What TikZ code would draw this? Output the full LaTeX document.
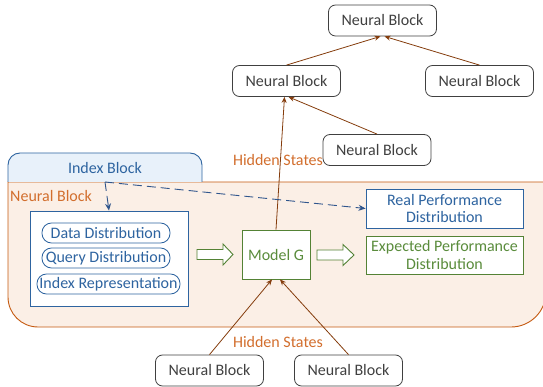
\documentclass[tikz,border=0pt]{standalone}
\usepackage{fontspec}
\setmainfont{Carlito}
\usetikzlibrary{arrows.meta}
\definecolor{nbgray}{RGB}{64,64,64}
\definecolor{idxblue}{RGB}{46,100,160}
\definecolor{dashblue}{RGB}{47,85,140}
\definecolor{idxfill}{RGB}{232,241,250}
\definecolor{ggreen}{RGB}{84,130,53}
\definecolor{gtext}{RGB}{90,140,60}
\definecolor{oborder}{RGB}{197,90,17}
\definecolor{otext}{RGB}{210,110,45}
\definecolor{peach}{RGB}{251,239,230}
\definecolor{brown}{RGB}{132,60,12}
\tikzset{
  fnt/.style={font=\fontsize{16}{17.5}\selectfont},
  nblock/.style={fnt, draw=nbgray, line width=0.8pt, rounded corners=7pt, fill=white, text=nbgray,
    minimum width=108pt, minimum height=31pt, inner sep=0pt},
  pill/.style={fnt, draw=idxblue, line width=0.8pt, rounded corners=9.5pt, fill=white, text=idxblue,
    minimum height=20pt, inner sep=0pt},
  bluebox/.style={fnt, draw=idxblue, line width=0.9pt, fill=white, text=idxblue, inner sep=0pt, align=center},
  greenbox/.style={fnt, draw=ggreen, line width=0.9pt, fill=white, text=gtext, inner sep=0pt, align=center},
  hs/.style={fnt, text=otext, inner sep=0pt},
  flow/.style={draw=brown, line width=0.8pt, -{Stealth[length=6pt,width=5pt]}},
  dflow/.style={draw=dashblue, line width=0.9pt, dash pattern=on 9pt off 5pt, -{Stealth[length=7pt,width=6pt]}},
  bigarrow/.style={draw=ggreen, line width=0.9pt, fill=white, line join=miter},
}
\begin{document}
\begin{tikzpicture}[x=1pt,y=-1pt]
\useasboundingbox (0,0) rectangle (543,387);
% Neural block region
\draw[draw=oborder, line width=0.9pt, fill=peach]
  (8,182) -- (8,297) arc[start angle=180,end angle=90,radius=30]
  -- (511,327) arc[start angle=90,end angle=0,radius=35]
  -- (546,182) -- cycle;
\node[fnt, text=otext, anchor=west, inner sep=0pt] (nblabel) at (10,196) {Neural Block};
% Index block
\draw[draw=idxblue, line width=0.9pt, fill=idxfill, rounded corners=12pt]
  (8,182) -- (8,153) -- (202,153) [sharp corners] -- (202,182);
\node[fnt, text=idxblue, inner sep=0pt] (idx) at (105,168) {Index Block};
\coordinate (idxb) at (105,182);
% inner box
\node[draw=idxblue, line width=0.9pt, fill=white, minimum width=158pt, minimum height=95pt, inner sep=0pt] (inner) at (109,258.5) {};
\node[pill, minimum width=128pt] (dd) at (106,233) {Data Distribution};
\node[pill, minimum width=128pt] (qd) at (106,258) {Query Distribution};
\node[pill, minimum width=143pt] (ir) at (108.5,284) {Index Representation};
% model G and outputs
\node[greenbox, minimum width=68pt, minimum height=49pt] (G) at (276,254.5) {Model G};
\node[bluebox, minimum width=157pt, minimum height=39pt] (real) at (444.5,208.5) {Real Performance\\Distribution};
\node[greenbox, minimum width=157pt, minimum height=38pt] (exp) at (444.5,255) {Expected Performance\\Distribution};
% block arrows
\draw[bigarrow] (197,249.5) -- (223,249.5) -- (223,244) -- (233,254.5) -- (223,265) -- (223,259.5) -- (197,259.5) -- cycle;
\draw[bigarrow] (317,250) -- (343,250) -- (343,244.5) -- (354,255) -- (343,265.5) -- (343,260) -- (317,260) -- cycle;
% neural blocks
\node[nblock] (top) at (382.5,20.5) {Neural Block};
\node[nblock] (ml) at (286.5,81) {Neural Block};
\node[nblock] (mr) at (479.5,81) {Neural Block};
\node[nblock] (lo) at (377,150) {Neural Block};
\node[nblock] (b1) at (209.5,370.5) {Neural Block};
\node[nblock] (b2) at (348.5,370.5) {Neural Block};
% connectors
\draw[flow] (ml.north) -- ([xshift=-2pt]top.south);
\draw[flow] (mr.north) -- ([xshift=2pt]top.south);
\draw[flow] (lo.north) -- ([xshift=2pt]ml.south);
\draw[flow] (G.north) -- ([xshift=-2pt]ml.south);
\draw[flow] (b1.north) -- ([xshift=-4pt]G.south);
\draw[flow] (b2.north) -- ([xshift=4pt]G.south);
\draw[dflow] (idxb) -- (inner.north);
\draw[dflow] (idxb) -- (real.west);
\node[hs] (hs1) at (278,160) {Hidden States};
\node[hs] (hs2) at (278,342) {Hidden States};
\end{tikzpicture}
\end{document}
